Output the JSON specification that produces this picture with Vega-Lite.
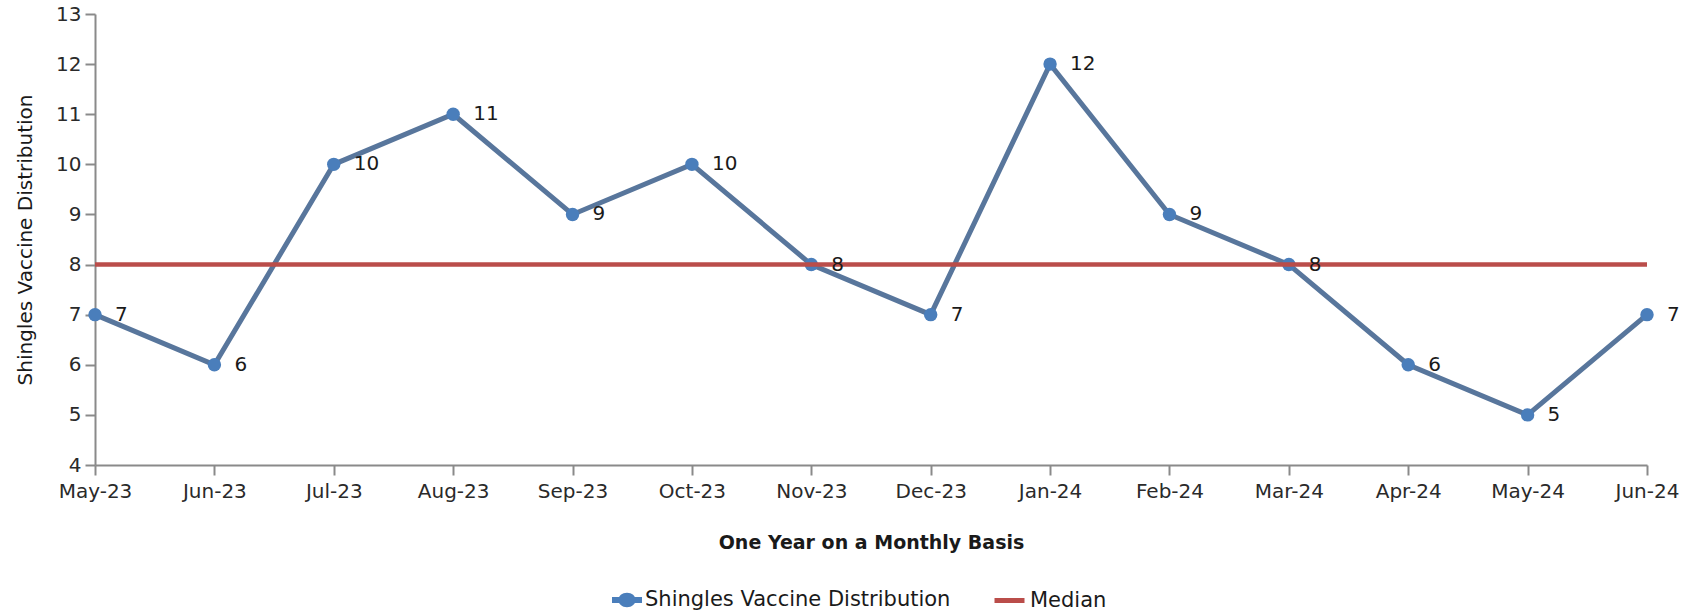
{
  "$schema": "https://vega.github.io/schema/vega-lite/v6.json",
  "autosize": {"type": "none"},
  "padding": {"left": 95, "top": 14, "right": 57, "bottom": 150},
  "width": 1552,
  "height": 451,
  "background": "white",
  "config": {
    "view": {"stroke": null},
    "font": "DejaVu Sans",
    "axis": {
      "labelFont": "DejaVu Sans",
      "labelFontSize": 20,
      "labelColor": "#2a2a2a",
      "titleFont": "DejaVu Sans",
      "domainColor": "#8a8a8a",
      "domainWidth": 2,
      "tickColor": "#8a8a8a",
      "tickWidth": 2,
      "tickSize": 10,
      "grid": false
    },
    "legend": {
      "labelFont": "DejaVu Sans",
      "labelFontSize": 21,
      "labelColor": "#1a1a1a",
      "labelOffset": 3,
      "labelLimit": 500,
      "padding": 0,
      "orient": "none",
      "direction": "horizontal",
      "title": null
    }
  },
  "data": {
    "values": [
      {"month": "May-23", "value": 7, "median": 8},
      {"month": "Jun-23", "value": 6, "median": 8},
      {"month": "Jul-23", "value": 10, "median": 8},
      {"month": "Aug-23", "value": 11, "median": 8},
      {"month": "Sep-23", "value": 9, "median": 8},
      {"month": "Oct-23", "value": 10, "median": 8},
      {"month": "Nov-23", "value": 8, "median": 8},
      {"month": "Dec-23", "value": 7, "median": 8},
      {"month": "Jan-24", "value": 12, "median": 8},
      {"month": "Feb-24", "value": 9, "median": 8},
      {"month": "Mar-24", "value": 8, "median": 8},
      {"month": "Apr-24", "value": 6, "median": 8},
      {"month": "May-24", "value": 5, "median": 8},
      {"month": "Jun-24", "value": 7, "median": 8}
    ]
  },
  "encoding": {
    "x": {
      "field": "month",
      "type": "ordinal",
      "sort": null,
      "scale": {"type": "point", "padding": 0},
      "axis": {
        "title": "One Year on a Monthly Basis",
        "titleFontSize": 19,
        "titleFontWeight": "bold",
        "titleColor": "#1a1a1a",
        "titleBaseline": "middle",
        "titleY": 77,
        "labelAngle": 0,
        "labelPadding": 6,
        "labelOverlap": false,
        "labelFlush": false
      }
    }
  },
  "layer": [
    {
      "mark": {"type": "line", "color": "#58769C", "strokeWidth": 5},
      "encoding": {
        "y": {
          "field": "value",
          "type": "quantitative",
          "scale": {"domain": [4, 13], "nice": false, "zero": false},
          "axis": {
            "title": "Shingles Vaccine Distribution",
            "titleFontSize": 20,
            "titleFontWeight": "normal",
            "titleColor": "#1a1a1a",
            "titleX": -70,
            "titleBaseline": "middle",
            "values": [4, 5, 6, 7, 8, 9, 10, 11, 12, 13],
            "labelPadding": 4
          }
        }
      }
    },
    {
      "mark": {"type": "point", "filled": true, "shape": "circle", "size": 180, "opacity": 1},
      "encoding": {
        "y": {"field": "value", "type": "quantitative"},
        "fill": {
          "datum": "Shingles Vaccine Distribution",
          "type": "nominal",
          "scale": {"range": ["#4A7EBB"]},
          "legend": {
            "legendX": 517,
            "legendY": 571,
            "symbolType": "M-1,-0.2L1,-0.2L1,0.2L-1,0.2Z M-0.58,0A0.58,0.48 0 1,1 0.58,0A0.58,0.48 0 1,1 -0.58,0Z",
            "symbolSize": 900,
            "symbolStrokeWidth": 0,
            "symbolOpacity": 1
          }
        }
      }
    },
    {
      "mark": {"type": "line", "strokeWidth": 4.5},
      "encoding": {
        "y": {"field": "median", "type": "quantitative"},
        "stroke": {
          "datum": "Median",
          "type": "nominal",
          "scale": {"range": ["#BA4D4A"]},
          "legend": {
            "legendX": 897,
            "legendY": 569,
            "symbolType": "stroke",
            "symbolSize": 900,
            "symbolStrokeWidth": 5
          }
        }
      }
    },
    {
      "mark": {"type": "text", "align": "left", "baseline": "middle", "dx": 20, "fontSize": 20, "font": "DejaVu Sans", "color": "#1a1a1a"},
      "encoding": {
        "y": {"field": "value", "type": "quantitative"},
        "text": {"field": "value", "type": "quantitative"}
      }
    }
  ]
}
